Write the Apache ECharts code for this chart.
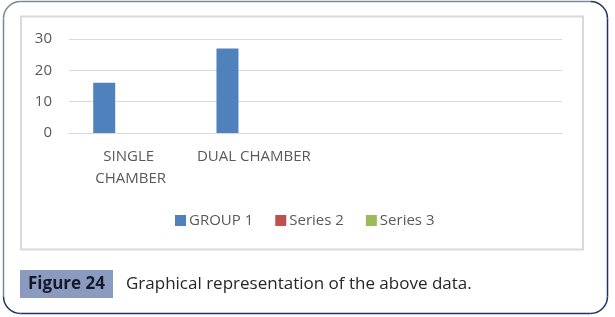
<!DOCTYPE html>
<html>
<head>
<meta charset="utf-8">
<style>
  html, body { margin: 0; padding: 0; background: #ffffff; }
  #chart { width: 615px; height: 317px; }
</style>
<script src="https://cdn.jsdelivr.net/npm/echarts@6/dist/echarts.min.js"></script>
</head>
<body>
<div id="chart"></div>
<script>
// ---- data ----
const categories = ['SINGLE CHAMBER', 'DUAL CHAMBER', '', ' '];
const seriesNames = ['GROUP 1', 'Series 2', 'Series 3'];
const group1 = [16, 27, null, null];
const series2 = [null, null, null, null];
const series3 = [null, null, null, null];
const yTicks = [0, 10, 20, 30];
const figureLabel = 'Figure 24';
const captionText = 'Graphical representation of the above data.';

const FONT = '"Open Sans", sans-serif';
const chart = echarts.init(document.getElementById('chart'), null, { renderer: 'canvas' });

const x0 = 3.5, y0 = 1.5, x1 = 607.5, y1 = 313.5, r = 17;
const GRAY = '#7d8696', NAVY = '#1f3562', LW = 1.5;
const PI = Math.PI;
function ln(ax, ay, bx, by, c) {
  return { type: 'line', shape: { x1: ax, y1: ay, x2: bx, y2: by }, style: { stroke: c, lineWidth: LW }, silent: true };
}
function arc(cx, cy, s, e, c) {
  return { type: 'arc', shape: { cx: cx, cy: cy, r: r, startAngle: s, endAngle: e, clockwise: true }, style: { stroke: c, lineWidth: LW, fill: null }, silent: true };
}
const border = [
  ln(x0, y0 + r, x0, y1 - r, GRAY),
  ln(x0 + r, y0, x1 - r, y0, GRAY),
  arc(x0 + r, y0 + r, PI, 1.5 * PI, GRAY),
  arc(x1 - r, y0 + r, 1.5 * PI, 2 * PI, NAVY),
  ln(x1, y0 + r, x1, y1 - r, NAVY),
  arc(x1 - r, y1 - r, 0, 0.5 * PI, NAVY),
  ln(x0 + r, y1, x1 - r, y1, NAVY),
  arc(x0 + r, y1 - r, 0.5 * PI, PI, NAVY)
];

const barCommon = { type: 'bar', barWidth: 22, barGap: '20%' };

chart.setOption({
  animation: false,
  backgroundColor: '#ffffff',
  color: ['#4f81bd', '#c0504d', '#9bbb59'],
  grid: { left: 69, right: 53, top: 39, bottom: 184, containLabel: false },
  legend: {
    data: seriesNames,
    left: 170,
    top: 208,
    itemWidth: 11,
    itemHeight: 11,
    itemGap: 22,
    icon: 'rect',
    textStyle: { color: '#595959', fontSize: 15, fontFamily: FONT, padding: [0, 0, 0, -2] }
  },
  xAxis: {
    type: 'category',
    data: categories,
    axisLine: { show: true, lineStyle: { color: '#d9d9d9', width: 1 } },
    axisTick: { show: false },
    axisLabel: {
      color: '#595959', fontSize: 15, fontFamily: FONT,
      margin: 13, lineHeight: 22, width: 118, overflow: 'break', interval: 0
    }
  },
  yAxis: {
    type: 'value',
    min: yTicks[0],
    max: yTicks[yTicks.length - 1],
    interval: yTicks[1] - yTicks[0],
    axisLine: { show: false },
    axisTick: { show: false },
    axisLabel: { color: '#595959', fontSize: 15, fontFamily: FONT, margin: 17 },
    splitLine: { lineStyle: { color: '#d9d9d9', width: 1 } }
  },
  series: [
    Object.assign({ name: seriesNames[0], data: group1 }, barCommon),
    Object.assign({ name: seriesNames[1], data: series2 }, barCommon),
    Object.assign({ name: seriesNames[2], data: series3 }, barCommon)
  ],
  graphic: border.concat([
    { type: 'rect', shape: { x: 21, y: 16.5, width: 562, height: 233 }, style: { fill: null, stroke: '#d9d9d9', lineWidth: 2 }, silent: true, z: -1 },
    { type: 'rect', shape: { x: 20, y: 270, width: 93, height: 28 }, style: { fill: '#8a9bbf' }, silent: true },
    { type: 'text', x: 66.5, y: 284.5, style: { text: figureLabel, fill: '#15192b', font: 'bold 17px ' + FONT, align: 'center', verticalAlign: 'middle' }, silent: true },
    { type: 'text', x: 126, y: 284.5, style: { text: captionText, fill: '#262626', font: '17px ' + FONT, align: 'left', verticalAlign: 'middle' }, silent: true }
  ])
});
</script>
</body>
</html>
